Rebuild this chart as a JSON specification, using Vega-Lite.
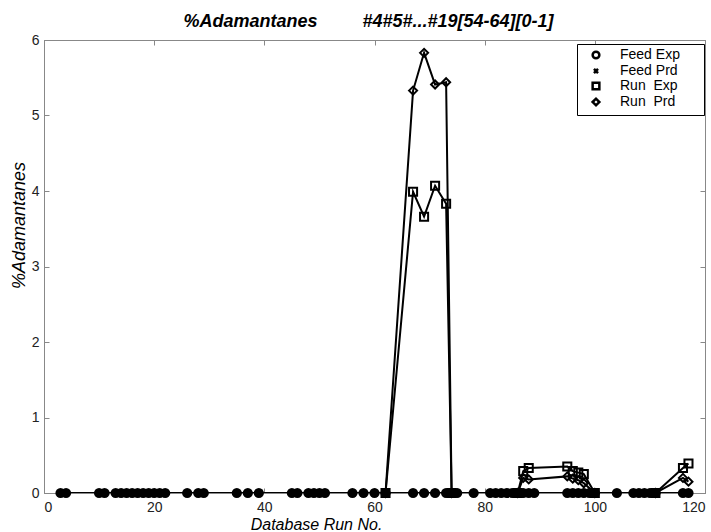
{
  "$schema": "https://vega.github.io/schema/vega-lite/v6.json",
  "width": 661,
  "height": 453,
  "autosize": "none",
  "padding": {"left": 44, "top": 40, "right": 6, "bottom": 39},
  "background": "white",
  "config": {
    "font": "Liberation Sans",
    "view": {"stroke": "#888888", "strokeWidth": 1},
    "axis": {"grid": false, "domainColor": "#888888", "tickColor": "#888888", "labelColor": "#222222", "labelFontSize": 14, "labelFont": "Liberation Sans", "titleFont": "Liberation Sans", "titleFontWeight": "normal", "titleFontStyle": "italic", "titleColor": "black"}
  },
  "title": {
    "text": "%Adamantanes\u00a0\u00a0\u00a0\u00a0\u00a0\u00a0\u00a0\u00a0\u00a0#4#5#...#19[54-64][0-1]",
    "font": "Liberation Sans", "fontSize": 18, "fontWeight": "bold", "fontStyle": "italic", "color": "black",
    "anchor": "middle", "offset": 12, "baseline": "alphabetic", "dy": 24, "dx": -6
  },
  "data": {
    "values": [
      {"s": "Feed Exp", "x": 3, "y": 0}, {"s": "Feed Exp", "x": 4, "y": 0},
      {"s": "Feed Exp", "x": 10, "y": 0}, {"s": "Feed Exp", "x": 11, "y": 0},
      {"s": "Feed Exp", "x": 13, "y": 0}, {"s": "Feed Exp", "x": 14, "y": 0},
      {"s": "Feed Exp", "x": 15, "y": 0}, {"s": "Feed Exp", "x": 16, "y": 0},
      {"s": "Feed Exp", "x": 17, "y": 0}, {"s": "Feed Exp", "x": 18, "y": 0},
      {"s": "Feed Exp", "x": 19, "y": 0}, {"s": "Feed Exp", "x": 20, "y": 0},
      {"s": "Feed Exp", "x": 21, "y": 0}, {"s": "Feed Exp", "x": 22, "y": 0},
      {"s": "Feed Exp", "x": 26, "y": 0}, {"s": "Feed Exp", "x": 28, "y": 0},
      {"s": "Feed Exp", "x": 29, "y": 0}, {"s": "Feed Exp", "x": 35, "y": 0},
      {"s": "Feed Exp", "x": 37, "y": 0}, {"s": "Feed Exp", "x": 39, "y": 0},
      {"s": "Feed Exp", "x": 45, "y": 0}, {"s": "Feed Exp", "x": 46, "y": 0},
      {"s": "Feed Exp", "x": 48, "y": 0}, {"s": "Feed Exp", "x": 49, "y": 0},
      {"s": "Feed Exp", "x": 50, "y": 0}, {"s": "Feed Exp", "x": 51, "y": 0},
      {"s": "Feed Exp", "x": 56, "y": 0}, {"s": "Feed Exp", "x": 58, "y": 0},
      {"s": "Feed Exp", "x": 60, "y": 0}, {"s": "Feed Exp", "x": 62, "y": 0},
      {"s": "Feed Exp", "x": 67, "y": 0}, {"s": "Feed Exp", "x": 69, "y": 0},
      {"s": "Feed Exp", "x": 71, "y": 0}, {"s": "Feed Exp", "x": 73, "y": 0},
      {"s": "Feed Exp", "x": 74, "y": 0}, {"s": "Feed Exp", "x": 75, "y": 0},
      {"s": "Feed Exp", "x": 78, "y": 0}, {"s": "Feed Exp", "x": 81, "y": 0},
      {"s": "Feed Exp", "x": 82, "y": 0}, {"s": "Feed Exp", "x": 83, "y": 0},
      {"s": "Feed Exp", "x": 84, "y": 0}, {"s": "Feed Exp", "x": 85, "y": 0},
      {"s": "Feed Exp", "x": 86, "y": 0}, {"s": "Feed Exp", "x": 87, "y": 0},
      {"s": "Feed Exp", "x": 88, "y": 0}, {"s": "Feed Exp", "x": 89, "y": 0},
      {"s": "Feed Exp", "x": 95, "y": 0}, {"s": "Feed Exp", "x": 96, "y": 0},
      {"s": "Feed Exp", "x": 97, "y": 0}, {"s": "Feed Exp", "x": 98, "y": 0},
      {"s": "Feed Exp", "x": 99, "y": 0}, {"s": "Feed Exp", "x": 100, "y": 0},
      {"s": "Feed Exp", "x": 104, "y": 0}, {"s": "Feed Exp", "x": 107, "y": 0},
      {"s": "Feed Exp", "x": 108, "y": 0}, {"s": "Feed Exp", "x": 109, "y": 0},
      {"s": "Feed Exp", "x": 110, "y": 0}, {"s": "Feed Exp", "x": 111, "y": 0},
      {"s": "Feed Exp", "x": 116, "y": 0}, {"s": "Feed Exp", "x": 117, "y": 0},

      {"s": "Run Exp", "x": 62, "y": 0}, {"s": "Run Exp", "x": 67, "y": 3.99},
      {"s": "Run Exp", "x": 69, "y": 3.66}, {"s": "Run Exp", "x": 71, "y": 4.07},
      {"s": "Run Exp", "x": 73, "y": 3.83}, {"s": "Run Exp", "x": 74, "y": 0},
      {"s": "Run Exp", "x": 86, "y": 0}, {"s": "Run Exp", "x": 87, "y": 0.29},
      {"s": "Run Exp", "x": 88, "y": 0.33}, {"s": "Run Exp", "x": 95, "y": 0.35},
      {"s": "Run Exp", "x": 96, "y": 0.29}, {"s": "Run Exp", "x": 97, "y": 0.27},
      {"s": "Run Exp", "x": 98, "y": 0.25}, {"s": "Run Exp", "x": 100, "y": 0},
      {"s": "Run Exp", "x": 111, "y": 0}, {"s": "Run Exp", "x": 116, "y": 0.33},
      {"s": "Run Exp", "x": 117, "y": 0.39},

      {"s": "Run Prd", "x": 62, "y": 0}, {"s": "Run Prd", "x": 67, "y": 5.33},
      {"s": "Run Prd", "x": 69, "y": 5.83}, {"s": "Run Prd", "x": 71, "y": 5.41},
      {"s": "Run Prd", "x": 73, "y": 5.44}, {"s": "Run Prd", "x": 74, "y": 0},
      {"s": "Run Prd", "x": 86, "y": 0}, {"s": "Run Prd", "x": 87, "y": 0.2},
      {"s": "Run Prd", "x": 88, "y": 0.18}, {"s": "Run Prd", "x": 95, "y": 0.22},
      {"s": "Run Prd", "x": 96, "y": 0.19}, {"s": "Run Prd", "x": 97, "y": 0.17},
      {"s": "Run Prd", "x": 98, "y": 0.13}, {"s": "Run Prd", "x": 100, "y": 0},
      {"s": "Run Prd", "x": 111, "y": 0}, {"s": "Run Prd", "x": 116, "y": 0.2},
      {"s": "Run Prd", "x": 117, "y": 0.15}
    ]
  },
  "layer": [
    {
      "mark": {"type": "line", "color": "black", "strokeWidth": 2, "clip": true},
      "encoding": {
        "x": {"field": "x", "type": "quantitative", "scale": {"domain": [0, 120], "nice": false, "zero": false},
              "axis": {"orient": "bottom", "values": [0, 20, 40, 60, 80, 100, 120], "title": "Database Run No.", "titleFontSize": 16, "tickSize": -5, "labelPadding": 12, "titleX": 272, "titleY": 36, "titleAlign": "center", "titleBaseline": "alphabetic", "titleAnchor": null}},
        "y": {"field": "y", "type": "quantitative", "scale": {"domain": [0, 6], "nice": false},
              "axis": {"orient": "left", "values": [0, 1, 2, 3, 4, 5, 6], "title": "%Adamantanes", "titleFontSize": 18, "tickSize": -5, "labelPadding": 10, "titleX": -20, "titleY": 185, "titleAngle": -90, "titleAlign": "center", "titleBaseline": "alphabetic", "titleAnchor": null}},
        "detail": {"field": "s"},
        "order": {"field": "x", "type": "quantitative"}
      }
    },
    {
      "transform": [{"filter": "datum.s != 'Feed Exp'"}],
      "mark": {"type": "point", "filled": false, "color": "black", "strokeWidth": 2, "size": 65, "opacity": 1},
      "encoding": {
        "x": {"field": "x", "type": "quantitative", "axis": {"orient": "top", "values": [0, 20, 40, 60, 80, 100, 120], "labels": false, "title": null, "tickSize": -5}},
        "y": {"field": "y", "type": "quantitative", "axis": {"orient": "right", "values": [0, 1, 2, 3, 4, 5, 6], "labels": false, "title": null, "tickSize": -5}},
        "shape": {
          "field": "s", "type": "nominal",
          "scale": {"domain": ["Feed Exp", "Feed Prd", "Run Exp", "Run Prd"], "range": ["circle", "M-0.6,-0.6L0.6,0.6M-0.6,0.6L0.6,-0.6", "square", "diamond"]},
          "legend": {
            "title": null, "orient": "none", "legendX": 533, "legendY": 4,
            "strokeColor": "black", "fillColor": "white", "padding": 4,
            "labelFontSize": 14, "labelFont": "Liberation Sans", "labelColor": "black",
            "rowPadding": -2, "symbolSize": 45, "symbolStrokeWidth": 2.5, "symbolStrokeColor": "black", "symbolOffset": 8, "labelOffset": 17,
            "labelExpr": "(datum.label == 'Run Exp' ? 'Run\u00a0\u00a0Exp' : datum.label == 'Run Prd' ? 'Run\u00a0\u00a0Prd' : datum.label) + '\u2800\u2800'"
          }
        }
      }
    },
    {
      "transform": [{"filter": "datum.s == 'Feed Exp'"}],
      "mark": {"type": "point", "shape": "circle", "filled": true, "color": "black", "size": 105, "opacity": 1},
      "encoding": {
        "x": {"field": "x", "type": "quantitative", "axis": null},
        "y": {"field": "y", "type": "quantitative", "axis": null}
      }
    }
  ],
  "resolve": {"axis": {"x": "independent", "y": "independent"}}
}
